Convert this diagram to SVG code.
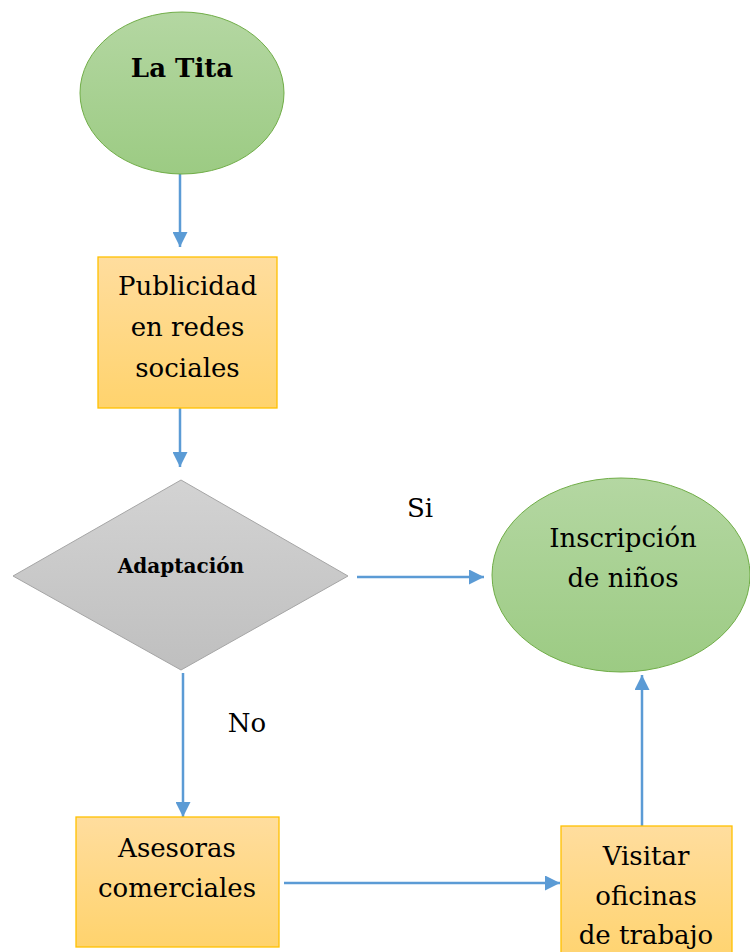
<svg xmlns="http://www.w3.org/2000/svg" width="750" height="952" viewBox="0 0 750 952">
<defs>
<linearGradient id="gGreen" x1="0" y1="0" x2="0" y2="1"><stop offset="0" stop-color="#B4D7A2"/><stop offset="1" stop-color="#9CCB83"/></linearGradient>
<linearGradient id="gGold" x1="0" y1="0" x2="0" y2="1"><stop offset="0" stop-color="#FFDD9E"/><stop offset="1" stop-color="#FFD36D"/></linearGradient>
<linearGradient id="gGray" x1="0" y1="0" x2="0" y2="1"><stop offset="0" stop-color="#D3D3D3"/><stop offset="1" stop-color="#BFBFBF"/></linearGradient>
<marker id="arr" viewBox="0 0 10 10" refX="10" refY="5" markerWidth="6.4" markerHeight="6" markerUnits="strokeWidth" orient="auto"><path d="M0,0 L10,5 L0,10 z" fill="#5B9BD5"/></marker>
</defs>
<style>
.green{fill:url(#gGreen);stroke:#70AD47;stroke-width:1}
.gold{fill:url(#gGold);stroke:#FFC000;stroke-width:1.3}
.gray{fill:url(#gGray);stroke:#A5A5A5;stroke-width:1}
text{font-family:'DejaVu Serif',serif;font-size:26px;fill:#000;text-anchor:middle}
.b{font-weight:bold}
.c{fill:none;stroke:#5B9BD5;stroke-width:2.5;marker-end:url(#arr)}
</style>
<g id="connectors">
<line class="c" x1="180" y1="174" x2="180" y2="247"/>
<line class="c" x1="180" y1="408" x2="180" y2="467"/>
<line class="c" x1="357" y1="577" x2="484" y2="577"/>
<line class="c" x1="183" y1="673" x2="183" y2="817"/>
<line class="c" x1="284" y1="883" x2="560" y2="883"/>
<line class="c" x1="642" y1="826" x2="642" y2="675"/>
<text x="420" y="517">Si</text>
<text x="247" y="732">No</text>
</g>
<g id="la-tita">
<ellipse class="green" cx="182" cy="93" rx="102" ry="81"/>
<text class="b" x="182" y="77">La Tita</text>
</g>
<g id="publicidad">
<rect class="gold" x="98" y="257" width="179" height="151"/>
<text x="187.5" y="295">Publicidad</text>
<text x="187.5" y="336">en redes</text>
<text x="187.5" y="377">sociales</text>
</g>
<g id="adaptacion">
<polygon class="gray" points="13,576 181,480 348,576 181,670"/>
<text class="b" x="181" y="573" style="font-size:20px">Adaptación</text>
</g>
<g id="inscripcion">
<ellipse class="green" cx="621" cy="575" rx="129" ry="97"/>
<text x="623" y="547">Inscripción</text>
<text x="623" y="587">de niños</text>
</g>
<g id="asesoras">
<rect class="gold" x="76" y="817" width="203" height="130"/>
<text x="177" y="857">Asesoras</text>
<text x="177" y="897">comerciales</text>
</g>
<g id="visitar">
<rect class="gold" x="561" y="826" width="171" height="140"/>
<text x="646" y="865">Visitar</text>
<text x="646" y="905">oficinas</text>
<text x="646" y="944">de trabajo</text>
</g>
</svg>
